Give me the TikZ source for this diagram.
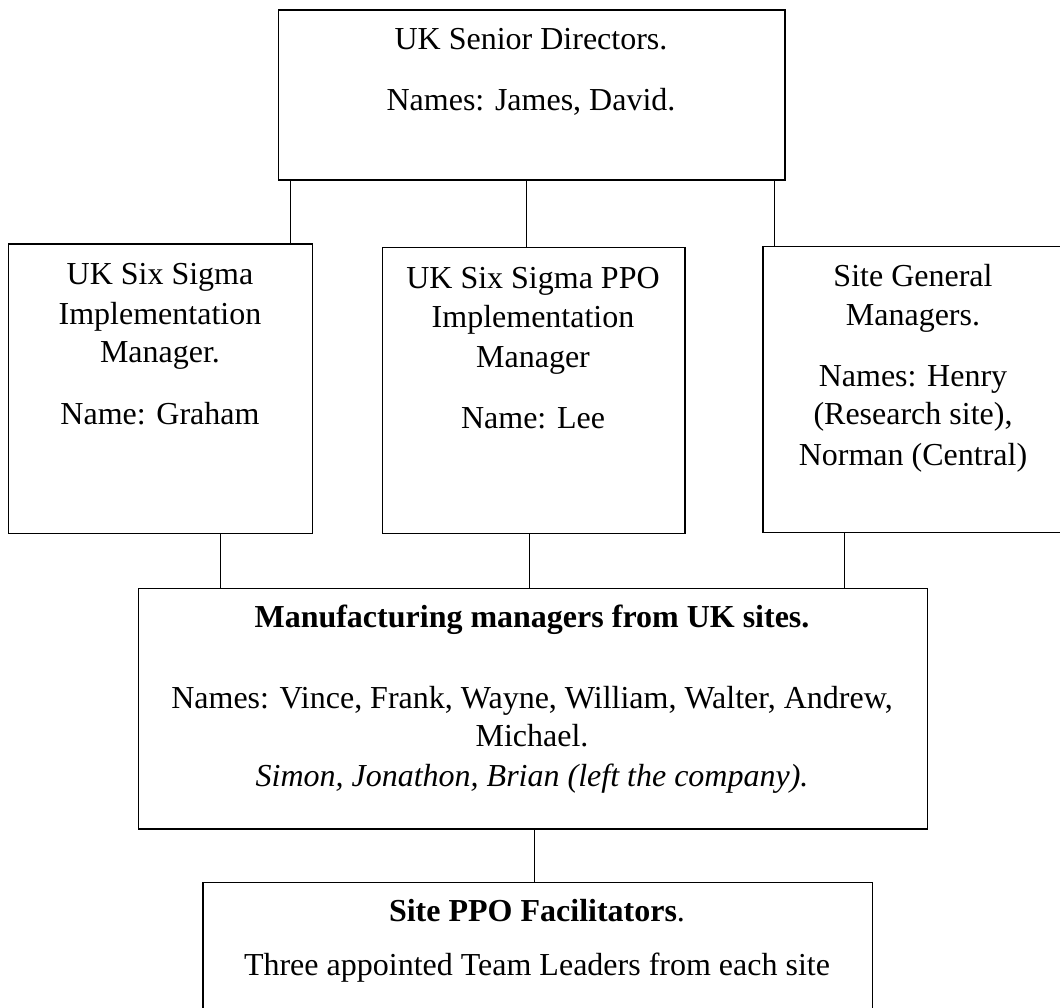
\documentclass[tikz,border=0pt]{standalone}
\usepackage{fontspec}
\setmainfont{Liberation Serif}
\begin{document}
\begin{tikzpicture}[x=1pt,y=-1pt,
  box/.style={draw=black,line width=1.3pt,inner sep=0pt,anchor=north west},
  link/.style={draw=black,line width=1pt},
  txt/.style={anchor=base,inner sep=0pt,font=\fontsize{32}{39}\selectfont}]
\useasboundingbox (0,0) rectangle (1060,1007);
\clip (0,0) rectangle (1060,1007);

% boxes
\node[box,minimum width=506.6pt,minimum height=170pt] (top) at (277.7,9.3) {};
\node[box,minimum width=304.3pt,minimum height=289.4pt] (six) at (7.7,243.3) {};
\node[box,minimum width=302.6pt,minimum height=285.7pt] (ppo) at (381.7,247) {};
\node[box,minimum width=302pt,minimum height=285.7pt] (gm) at (762.3,246) {};
\node[box,minimum width=789pt,minimum height=240.6pt] (mfg) at (137.7,587.7) {};
\node[box,minimum width=669.2pt,minimum height=160pt] (fac) at (202.3,881.7) {};

% texts
\node[txt] (t1) at (531,49.5) {UK Senior Directors.};
\node[txt] (t2) at (531,110.5) {Names: James, David.};

\node[txt] (s1) at (160,284.3) {UK Six Sigma};
\node[txt] (s2) at (160,324) {Implementation};
\node[txt] (s3) at (160,362.7) {Manager.};
\node[txt] (s4) at (160,424) {Name: Graham};

\node[txt] (p1) at (533,288.3) {UK Six Sigma PPO};
\node[txt] (p2) at (533,327.3) {Implementation};
\node[txt] (p3) at (533,367.3) {Manager};
\node[txt] (p4) at (533,428.3) {Name: Lee};

\node[txt] (g1) at (913,286) {Site General};
\node[txt] (g2) at (913,325) {Managers.};
\node[txt] (g3) at (913,386.7) {Names: Henry};
\node[txt] (g4) at (913,424) {(Research site),};
\node[txt] (g5) at (913,465) {Norman (Central)};

\node[txt] (m1) at (532,627.3) {\bfseries Manufacturing managers from UK sites.};
\node[txt] (m2) at (532,708.3) {Names: Vince, Frank, Wayne, William, Walter, Andrew,};
\node[txt] (m3) at (532,746.7) {Michael.};
\node[txt] (m4) at (532,786.7) {\itshape Simon, Jonathon, Brian (left the company).};

\node[txt] (f1) at (537,921.7) {\textbf{Site PPO Facilitators}.};
\node[txt] (f2) at (537,975) {Three appointed Team Leaders from each site};

% connector columns
\coordinate (c1) at (290,0);
\coordinate (c2) at (526,0);
\coordinate (c3) at (774.3,0);
\coordinate (c4) at (220,0);
\coordinate (c5) at (529.5,0);
\coordinate (c6) at (844,0);
\coordinate (c7) at (534,0);

\draw[link] (c1 |- top.south) -- (c1 |- six.north);
\draw[link] (c2 |- top.south) -- (c2 |- ppo.north);
\draw[link] (c3 |- top.south) -- (c3 |- gm.north);
\draw[link] (c4 |- six.south) -- (c4 |- mfg.north);
\draw[link] (c5 |- ppo.south) -- (c5 |- mfg.north);
\draw[link] (c6 |- gm.south) -- (c6 |- mfg.north);
\draw[link] (c7 |- mfg.south) -- (c7 |- fac.north);
\end{tikzpicture}
\end{document}
